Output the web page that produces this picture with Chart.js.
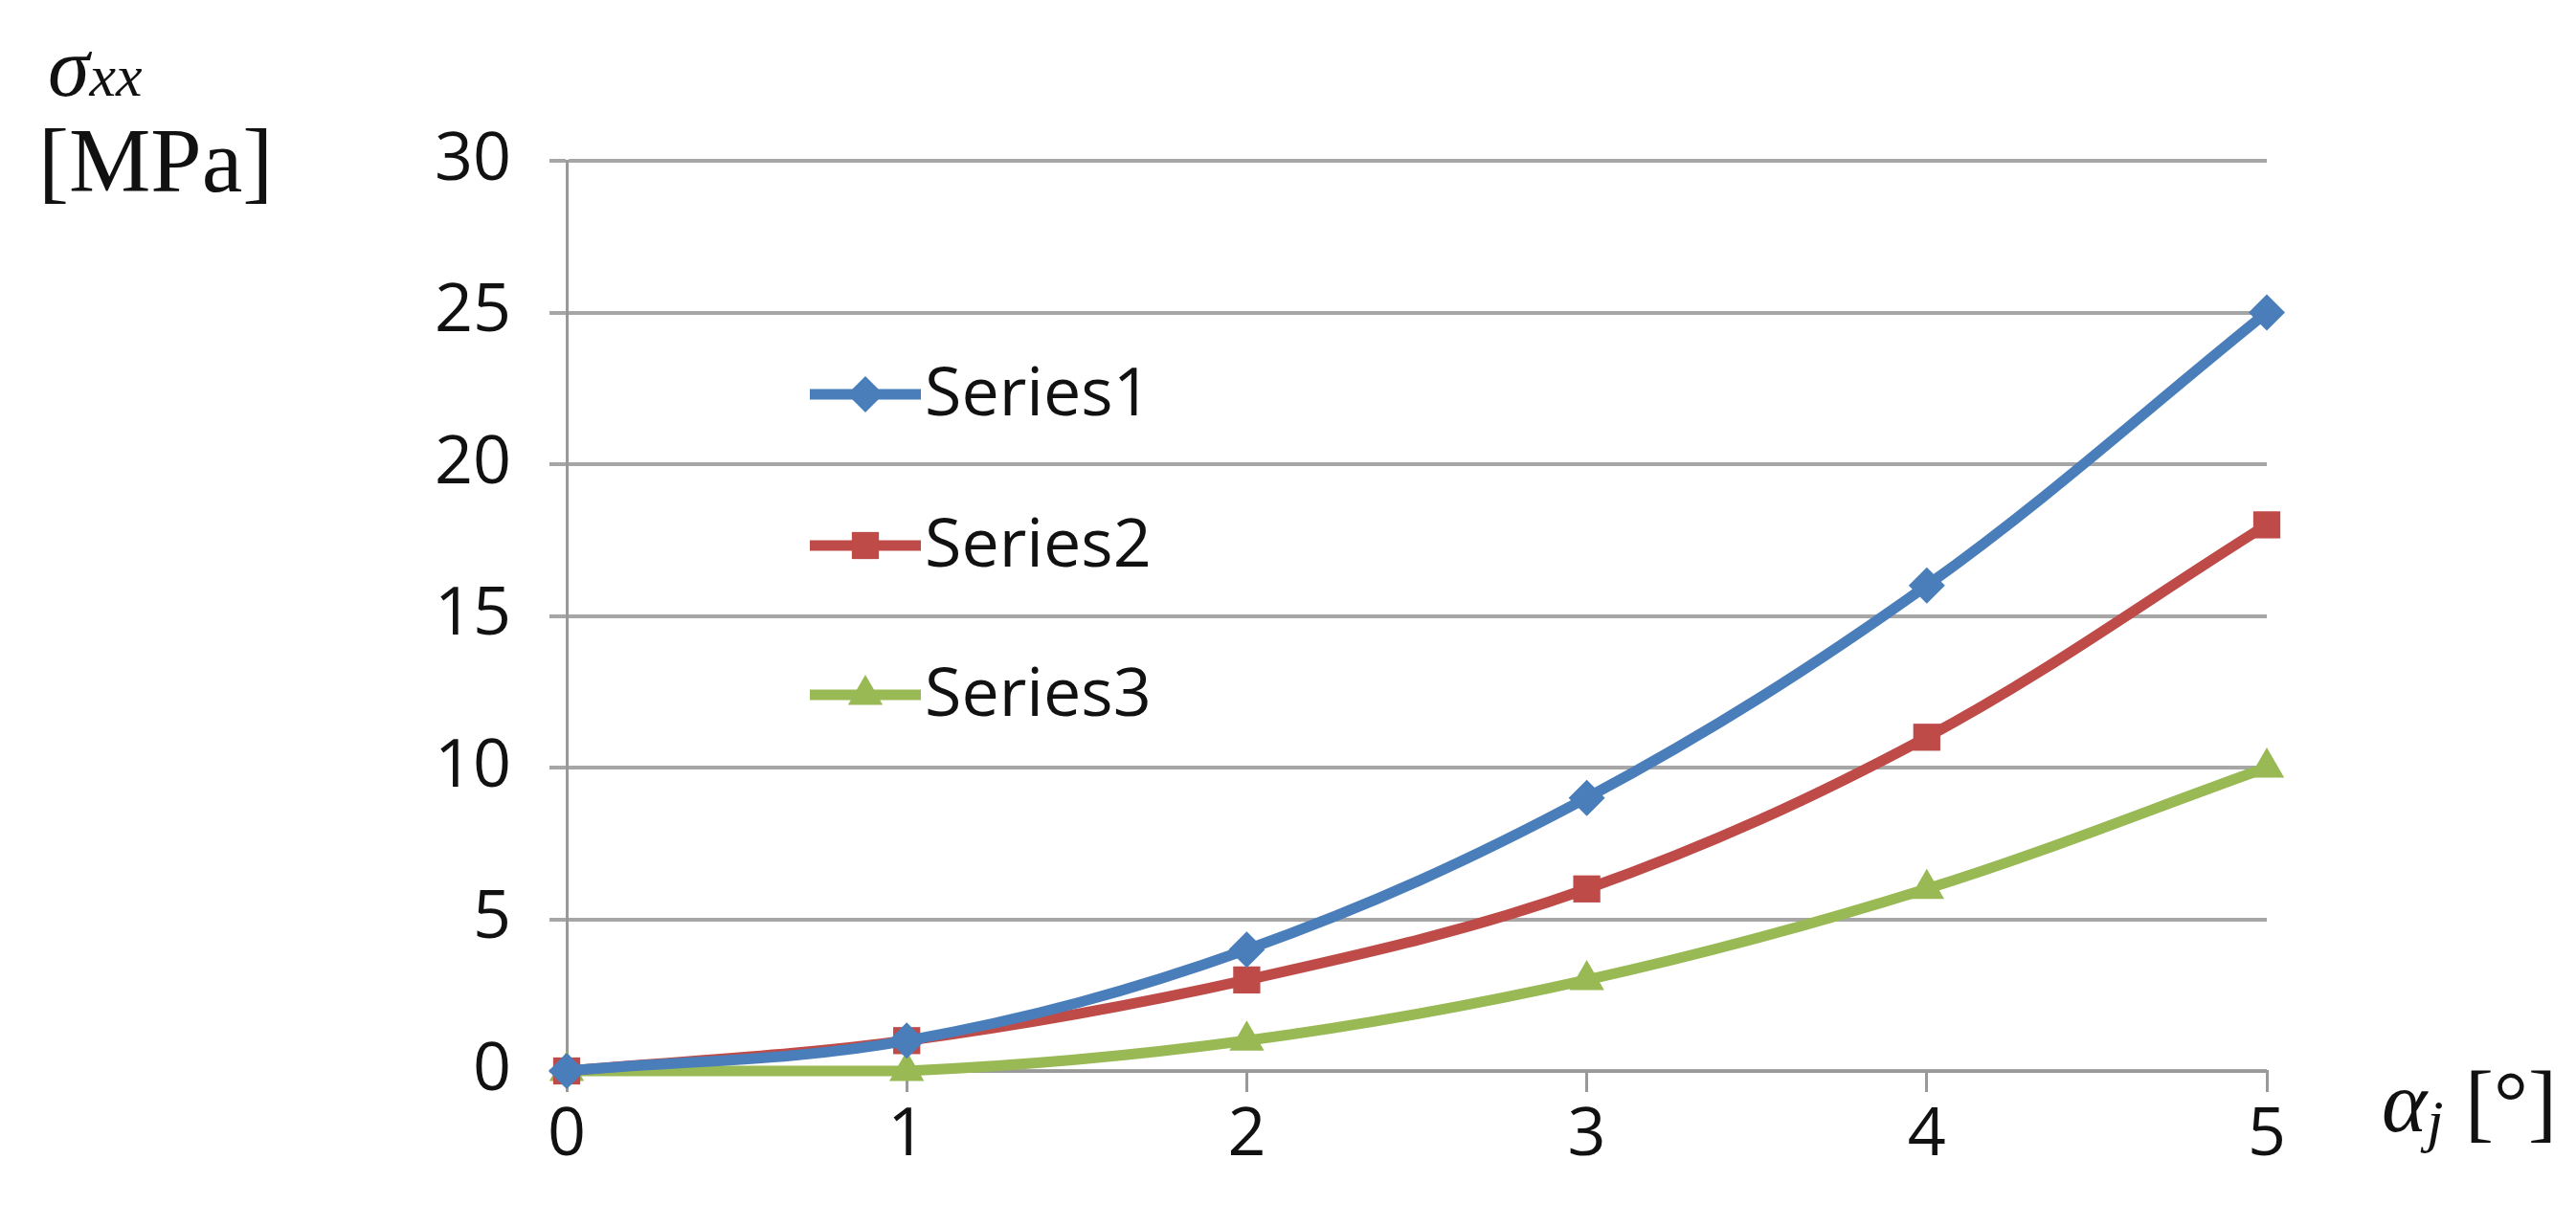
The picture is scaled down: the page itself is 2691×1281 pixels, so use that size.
<!DOCTYPE html>
<html><head><meta charset="utf-8">
<script src="https://cdn.jsdelivr.net/npm/chart.js@4/dist/chart.umd.min.js"></script>
<style>
html,body{margin:0;padding:0;background:#fff;}
#wrap{position:relative;width:2691px;height:1281px;}
.lbl{position:absolute;font-family:"Liberation Serif","DejaVu Serif",serif;color:#111;white-space:nowrap;}
</style></head><body>
<div id="wrap"><canvas id="c" width="2691" height="1281"></canvas>
<div class="lbl" style="left:50px;top:20px;font-size:88px;font-style:italic;">σ<span style="font-size:62px">xx</span></div>
<div class="lbl" style="left:40px;top:112px;font-size:96px;">[MPa]</div>
<div class="lbl" style="left:2488px;top:1100px;font-size:90px;"><i>α<span style="font-size:62px;vertical-align:-10px">j</span></i> [°]</div>
</div>
<script>
const xValues=[0,1,2,3,4,5];
const series1=[0,1,4,9,16,25];
const series2=[0,1,3,6,11,18];
const series3=[0,0,1,3,6,10];
const seriesNames=['Series1','Series2','Series3'];
const yTicks=[0,5,10,15,20,25,30];
const colors=['#4a7ebb','#be4b48','#98b954'];
const styles=['rectRot','rect','triangle'];
const radii=[19,20,21];
const sets=[series1,series2,series3].map((d,i)=>({
 label:seriesNames[i],data:d.map((v,j)=>({x:xValues[j],y:v})),
 borderColor:colors[i],backgroundColor:colors[i],borderWidth:11,
 pointStyle:styles[i],pointRadius:radii[i],pointBorderWidth:0,tension:0.35,clip:false
}));
const legendPlugin={id:'lg',afterDatasetsDraw(ch){
 const c=ch.ctx;c.save();
 const ys=[412,570,726];
 ch.data.datasets.forEach((ds,i)=>{
  const y=ys[i];
  c.strokeStyle=ds.borderColor;c.lineWidth=11;c.beginPath();c.moveTo(846,y);c.lineTo(962,y);c.stroke();
  c.fillStyle=ds.borderColor;
  Chart.helpers.drawPoint(c,{pointStyle:ds.pointStyle,radius:ds.pointRadius,borderWidth:0},904,y);
  c.fillStyle='#111';c.font='70px "Open Sans"';c.textBaseline='middle';c.fillText(ds.label,966,y+2);
 });c.restore();}};
new Chart(document.getElementById('c'),{type:'line',data:{datasets:sets},
options:{responsive:false,animation:false,
 layout:{padding:{left:0,top:168,right:323,bottom:0}},
 plugins:{legend:{display:false},tooltip:{enabled:false}},
 scales:{
  x:{type:'linear',min:0,max:5,afterFit:s=>{s.height=162;},
   afterBuildTicks:s=>{s.ticks=xValues.map(v=>({value:v}));},
   grid:{drawOnChartArea:false,color:'#999',lineWidth:3,tickLength:22},border:{color:'#999',width:3},
   ticks:{color:'#111',font:{family:'Open Sans',size:70},padding:4}},
  y:{min:0,max:30,afterFit:s=>{s.width=592;},
   afterBuildTicks:s=>{s.ticks=yTicks.map(v=>({value:v}));},
   grid:{color:'#a6a6a6',lineWidth:4,tickLength:18},border:{color:'#999',width:3},
   ticks:{color:'#111',font:{family:'Open Sans',size:70},padding:40}}
 }},plugins:[legendPlugin]});
</script></body></html>
